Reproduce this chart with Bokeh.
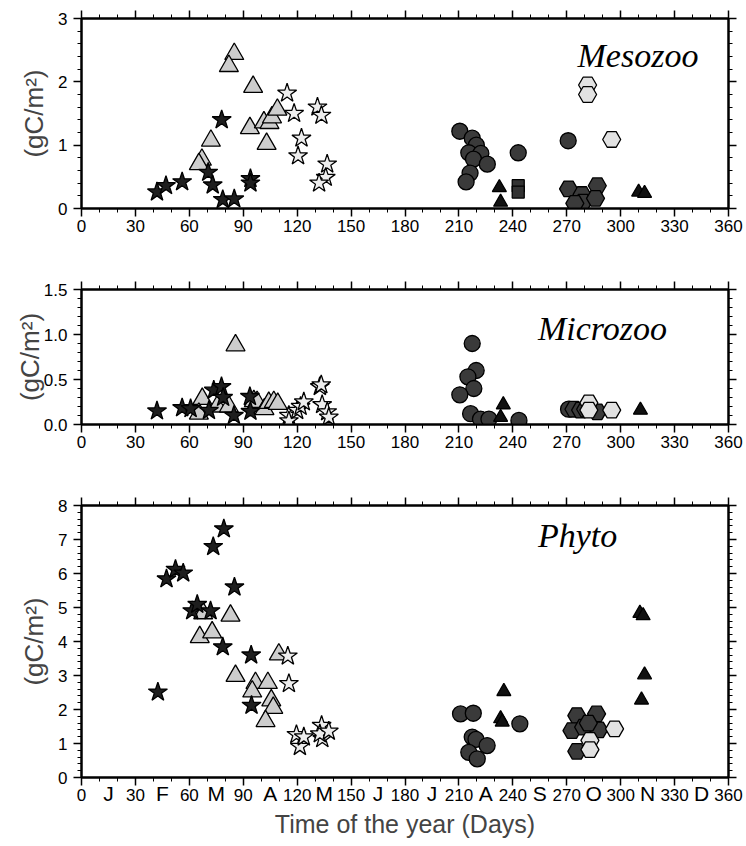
from bokeh.plotting import figure
from bokeh.layouts import column
from bokeh.models import FixedTicker, LinearAxis, Range1d, Label
from bokeh.embed import file_html
from bokeh.resources import INLINE

# ---- x axis (day of year) ----
day_ticks = list(range(0, 361, 30))
day_minor = list(range(0, 361, 10))
month_letters = ["J", "F", "M", "A", "M", "J", "J", "A", "S", "O", "N", "D"]
month_centres = [15 + 30 * i for i in range(12)]

# ---- Mesozoo ----
meso_fstar_day = [42, 47, 56, 78, 70.5, 73, 78.6, 85, 94, 94]
meso_fstar_val = [0.26, 0.36, 0.42, 1.40, 0.57, 0.37, 0.14, 0.15, 0.47, 0.40]
meso_gtri_day = [85, 82, 95.5, 72, 67, 65.3, 93.7, 103, 101.5, 104.6, 106, 109]
meso_gtri_val = [2.44, 2.25, 1.92, 1.07, 0.77, 0.70, 1.27, 1.02, 1.36, 1.35, 1.44, 1.56]
meso_ostar_day = [114.4, 118.3, 131.3, 133.5, 122.4, 120.5, 136.7, 135.9, 132.2]
meso_ostar_val = [1.82, 1.50, 1.60, 1.47, 1.11, 0.83, 0.70, 0.49, 0.40]
meso_circ_day = [210.5, 217.4, 219.7, 215.5, 222.2, 218.1, 225.8, 216.2, 214, 243, 270.8]
meso_circ_val = [1.22, 1.11, 1.00, 0.88, 0.87, 0.78, 0.70, 0.56, 0.42, 0.88, 1.07]
meso_btri_day = [232.5, 233.2, 310, 313.3]
meso_btri_val = [0.33, 0.10, 0.26, 0.24]
meso_sq_day = [243, 243]
meso_sq_val = [0.36, 0.26]
meso_dhex_day = [271, 287, 278.5, 279, 286, 274.5]
meso_dhex_val = [0.31, 0.36, 0.22, 0.10, 0.16, 0.08]
meso_lhex_day = [281.6, 281.6, 295]
meso_lhex_val = [1.95, 1.80, 1.09]

# ---- Microzoo ----
micro_fstar_day = [42, 56, 60.7, 70.9, 73.6, 77.9, 78.8, 84.8, 93.7, 94]
micro_fstar_val = [0.15, 0.185, 0.175, 0.155, 0.38, 0.42, 0.30, 0.10, 0.31, 0.145]
micro_gtri_day = [85.7, 67.2, 65.3, 75.5, 82, 95.9, 97.7, 101.8, 104.2, 107, 109.2]
micro_gtri_val = [0.88, 0.285, 0.12, 0.20, 0.20, 0.26, 0.25, 0.17, 0.24, 0.25, 0.23]
micro_ostar_day = [115.4, 115.4, 120, 121.9, 123.7, 132.6, 133.4, 133.9, 136.7, 137.6]
micro_ostar_val = [0.10, 0.04, 0.155, 0.20, 0.25, 0.42, 0.44, 0.22, 0.14, 0.08]
micro_circ_day = [217.4, 219.6, 215, 218.3, 210.5, 216.5, 222, 226.7, 243.4, 271]
micro_circ_val = [0.90, 0.60, 0.53, 0.40, 0.33, 0.12, 0.06, 0.06, 0.045, 0.17]
micro_btri_day = [234.7, 233.2, 311]
micro_btri_val = [0.22, 0.08, 0.16]
micro_dhex_day = [274, 277.7, 280.5, 287]
micro_dhex_val = [0.17, 0.16, 0.17, 0.14]
micro_lhex_day = [282.3, 282.3, 295]
micro_lhex_val = [0.24, 0.16, 0.16]

# ---- Phyto ----
phyto_fstar_day = [42.5, 47.3, 52.3, 56.6, 73.3, 79.2, 85.1, 61.6, 64.4, 71.8, 78.6, 94.4, 94.6]
phyto_fstar_val = [2.51, 5.84, 6.12, 6.01, 6.79, 7.31, 5.60, 4.90, 5.09, 4.90, 3.84, 3.60, 2.12]
phyto_gtri_day = [67.7, 82.9, 65.8, 72.7, 85.7, 96.8, 95, 103.7, 109.8, 105.6, 106.7, 102.4]
phyto_gtri_val = [4.83, 4.76, 4.13, 4.27, 2.99, 2.78, 2.53, 2.78, 3.62, 2.27, 2.05, 1.66]
phyto_ostar_day = [114.8, 115.4, 119.6, 121.5, 123.7, 133.6, 134, 132.6, 137.6]
phyto_ostar_val = [3.57, 2.76, 1.26, 0.91, 1.19, 1.53, 1.14, 1.28, 1.36]
phyto_circ_day = [210.9, 218, 217.4, 219.5, 225.7, 215.5, 220.2, 243.9]
phyto_circ_val = [1.87, 1.89, 1.19, 1.12, 0.94, 0.74, 0.55, 1.58]
phyto_btri_day = [235, 233.2, 234.1, 310.7, 312.5, 313.3, 311.6]
phyto_btri_val = [2.53, 1.73, 1.63, 4.83, 4.76, 3.02, 2.28]
phyto_dhex_day = [275.6, 286.6, 272.9, 279.4, 287.8, 282, 275.6]
phyto_dhex_val = [1.82, 1.87, 1.38, 1.48, 1.40, 1.60, 0.77]
phyto_lhex_day = [296.6, 282.9, 282.9]
phyto_lhex_val = [1.43, 1.09, 0.82]

SANS = "'Liberation Sans Narrow', 'Liberation Sans', sans-serif"
SERIF = "'Liberation Serif', 'DejaVu Serif', serif"

STYLES = {
    "fstar": dict(marker="star", size=20, fill_color="#1e1e1e"),
    "gtri": dict(marker="triangle", size=19, fill_color="#cdcdcd"),
    "ostar": dict(marker="star", size=20, fill_color="#ededed"),
    "circ": dict(marker="circle", size=16, fill_color="#3a3a3a"),
    "btri": dict(marker="triangle", size=14, fill_color="#111111"),
    "sq": dict(marker="square", size=12, fill_color="#333333"),
    "dhex": dict(marker="hex", size=18, fill_color="#3a3a3a"),
    "lhex": dict(marker="hex", size=18, fill_color="#e2e2e2"),
}


def style_axis(ax, ticks, minor, labelled=True):
    ax.ticker = FixedTicker(ticks=ticks, minor_ticks=minor)
    ax.axis_line_color = "black"
    ax.axis_line_width = 2
    ax.major_tick_line_width = 1.5
    ax.minor_tick_line_width = 1
    ax.major_tick_out = 8
    ax.major_tick_in = 0
    ax.minor_tick_out = 4
    ax.minor_tick_in = 0
    ax.major_label_text_font = SANS
    ax.major_label_text_font_size = "17px"
    ax.major_label_text_color = "black"
    if not labelled:
        # tick marks only on the top / right frame edges
        ax.major_label_overrides = {t: "" for t in ticks}
        ax.major_label_text_font_size = "1px"
        ax.major_label_standoff = 0


def panel(height, ymax, yticks, ylabels, yminor, top, bottom, series, title, tx, ty, title_std):
    p = figure(width=746, height=height, x_range=Range1d(0, 360), y_range=Range1d(0, ymax),
               output_backend="svg", toolbar_location=None,
               min_border_left=81, min_border_right=18,
               min_border_top=top, min_border_bottom=bottom)
    p.grid.visible = False
    p.outline_line_color = "black"
    p.outline_line_width = 2
    p.background_fill_color = "white"
    p.border_fill_color = "white"

    xax = p.xaxis[0]
    style_axis(xax, day_ticks, day_minor)
    xax.major_label_standoff = 3
    yax = p.yaxis[0]
    style_axis(yax, yticks, yminor)
    yax.major_label_overrides = dict(zip(yticks, ylabels))
    yax.major_label_standoff = 6
    yax.axis_label = "(gC/m\u00b2)"
    yax.axis_label_text_font = SANS
    yax.axis_label_text_font_style = "normal"
    yax.axis_label_text_font_size = "26px"
    yax.axis_label_standoff = title_std

    top_ax = LinearAxis()
    style_axis(top_ax, day_ticks, day_minor, labelled=False)
    p.add_layout(top_ax, "above")
    right_ax = LinearAxis()
    style_axis(right_ax, yticks, yminor, labelled=False)
    p.add_layout(right_ax, "right")

    for key, xs, ys in series:
        st = STYLES[key]
        p.scatter(xs, ys, marker=st["marker"], size=st["size"], fill_color=st["fill_color"],
                  line_color="black", line_width=1.3)

    p.add_layout(Label(x=tx, y=ty, text=title, text_font=SERIF, text_font_style="italic",
                       text_font_size="34px", text_color="black",
                       text_align="left", text_baseline="alphabetic"))
    return p, xax


def frac_ticks(lo, hi, step):
    n = int(round((hi - lo) / step))
    return [round(lo + i * step, 4) for i in range(n + 1)]


p1, _ = panel(255, 3, [0, 1, 2, 3], ["0", "1", "2", "3"], frac_ticks(0, 3, 0.2), 18, 47,
              [("gtri", meso_gtri_day, meso_gtri_val),
               ("ostar", meso_ostar_day, meso_ostar_val),
               ("fstar", meso_fstar_day, meso_fstar_val),
               ("circ", meso_circ_day, meso_circ_val),
               ("btri", meso_btri_day, meso_btri_val),
               ("sq", meso_sq_day, meso_sq_val),
               ("dhex", meso_dhex_day, meso_dhex_val),
               ("lhex", meso_lhex_day, meso_lhex_val)],
              "Mesozoo", 276, 2.42, 6)

p2, _ = panel(215, 1.5, [0, 0.5, 1.0, 1.5], ["0.0", "0.5", "1.0", "1.5"], frac_ticks(0, 1.5, 0.1), 34, 46,
              [("gtri", micro_gtri_day, micro_gtri_val),
               ("ostar", micro_ostar_day, micro_ostar_val),
               ("fstar", micro_fstar_day, micro_fstar_val),
               ("circ", micro_circ_day, micro_circ_val),
               ("btri", micro_btri_day, micro_btri_val),
               ("dhex", micro_dhex_day, micro_dhex_val),
               ("lhex", micro_lhex_day, micro_lhex_val)],
              "Microzoo", 254, 1.067, -4)

p3, x3 = panel(376, 8, list(range(0, 9)), [str(i) for i in range(9)], frac_ticks(0, 8, 0.2), 35, 69,
               [("gtri", phyto_gtri_day, phyto_gtri_val),
                ("ostar", phyto_ostar_day, phyto_ostar_val),
                ("fstar", phyto_fstar_day, phyto_fstar_val),
                ("circ", phyto_circ_day, phyto_circ_val),
                ("btri", phyto_btri_day, phyto_btri_val),
                ("dhex", phyto_dhex_day, phyto_dhex_val),
                ("lhex", phyto_lhex_day, phyto_lhex_val)],
               "Phyto", 254, 7.12, 6)

# month initials sit between the day numbers; this second axis is pulled up
# into the same row and also carries the axis title
month_ax = LinearAxis(ticker=FixedTicker(ticks=month_centres, minor_ticks=[]))
month_ax.major_label_overrides = dict(zip(month_centres, month_letters))
month_ax.axis_line_color = None
month_ax.major_tick_line_color = None
month_ax.major_tick_out = 0
month_ax.major_tick_in = 0
month_ax.minor_tick_out = 0
month_ax.minor_tick_in = 0
month_ax.major_label_standoff = -22
month_ax.major_label_text_font = SANS
month_ax.major_label_text_font_size = "21px"
month_ax.major_label_text_color = "black"
month_ax.axis_label = "Time of the year (Days)"
month_ax.axis_label_text_font = SANS
month_ax.axis_label_text_font_style = "normal"
month_ax.axis_label_text_font_size = "25px"
month_ax.axis_label_standoff = 2
p3.add_layout(month_ax, "below")

layout = column(p1, p2, p3, spacing=0)
open("out.html", "w").write(file_html(layout, INLINE))
